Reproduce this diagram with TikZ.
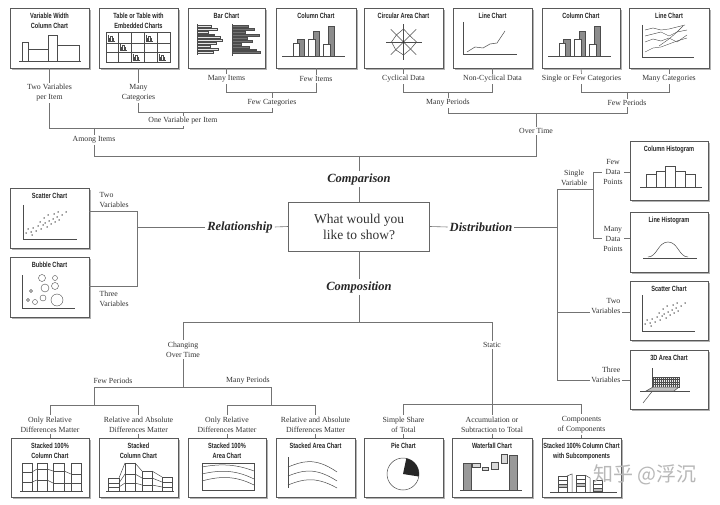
\documentclass[tikz,border=0pt]{standalone}
\usepackage{fontspec}
\setmainfont{Liberation Serif}
\newfontfamily\titlefont[FakeStretch=0.75]{Liberation Sans}
\newfontfamily\cjk{Noto Sans CJK SC}
\usetikzlibrary{shadows}
\newcommand{\chartbox}[6]{%
  \node[chartbox, minimum width={(#4)-(#2)}, minimum height={(#5)-(#3)}] (#1) at ({((#2)+(#4))/2},{((#3)+(#5))/2}) {};
  \node[ctitle] (#1t) at ({((#2)+(#4))/2},{(#3)+5}) {#6};
}
\newcommand{\tinych}[2]{%
  \draw[mini, line width=0.35pt] (#1,#2-6) -- (#1,#2) -- (#1+7,#2);
  \draw[mini, line width=0.35pt] (#1+1.2,#2) -- (#1+1.2,#2-3) -- (#1+2.6,#2-3) -- (#1+2.6,#2);
  \draw[mini, line width=0.35pt] (#1+2.6,#2) -- (#1+2.6,#2-5) -- (#1+4,#2-5) -- (#1+4,#2);
  \draw[mini, line width=0.35pt] (#1+4,#2-3.5) -- (#1+5.4,#2-3.5) -- (#1+5.4,#2);
}
\newcommand{\colch}{%
  \draw[mini] (6,48) -- (69,48);
  \draw[mini, fill=black!45] (21,31) rectangle (28,48);
  \draw[mini, fill=white] (17,35) rectangle (23,48);
  \draw[mini, fill=black!45] (37,23) rectangle (43,48);
  \draw[mini, fill=white] (32,31) rectangle (39,48);
  \draw[mini, fill=black!45] (52,18) rectangle (58,48);
  \draw[mini, fill=white] (47,36) rectangle (54,48);
}
\newcommand{\scatdots}{%
  \foreach \a/\b in {16/45,18/41,21/44,23/40,26/43,28/38,31/41,33/37,35/35,37/39,39/33,41/36,43/31,45/34,47/29,49/32,38/27,44/26,52/27,56/24,30/34,22/47,34/30,48/24}
    \fill[black!80] (\a,\b) circle (0.75);
}
\begin{document}
\begin{tikzpicture}[x=1pt,y=-1pt,
  chartbox/.style={draw=black!65, line width=0.9pt, fill=white, inner sep=0pt,
    drop shadow={shadow xshift=2pt, shadow yshift=-2pt, fill=black!30, opacity=1}},
  ctitle/.style={anchor=north, inner sep=0pt, align=center, text=black!85,
    font=\titlefont\bfseries\fontsize{7.5}{9.8}\selectfont},
  lbl/.style={inner sep=1.5pt, align=center, text=black!80, font=\fontsize{7.8}{10}\selectfont},
  cat/.style={inner sep=2pt, text=black!85, font=\bfseries\itshape\fontsize{12.5}{14}\selectfont},
  qbox/.style={draw=black!60, line width=0.7pt, minimum width=141pt, minimum height=49pt,
    align=center, inner sep=0pt, text=black!80, font=\fontsize{13.5}{16}\selectfont},
  conn/.style={draw=black!55, line width=0.6pt},
  mini/.style={draw=black!70, line width=0.5pt},
]
\fill[white] (0,0) rectangle (720,505);
\useasboundingbox (0,0) rectangle (720,505);

% ---------- chart boxes ----------
\chartbox{b1}{10}{8}{89}{68}{Variable Width\\Column Chart}
\chartbox{b2}{99}{8}{178}{68}{Table or Table with\\Embedded Charts}
\chartbox{b3}{188}{8}{265}{68}{Bar Chart}
\chartbox{b4}{276}{8}{356}{68}{Column Chart}
\chartbox{b5}{364}{8}{443}{68}{Circular Area Chart}
\chartbox{b6}{453}{8}{532}{68}{Line Chart}
\chartbox{b7}{542}{8}{620}{68}{Column Chart}
\chartbox{b8}{629}{8}{709}{68}{Line Chart}
\chartbox{bs1}{10}{188}{89}{248}{Scatter Chart}
\chartbox{bs2}{10}{257}{89}{317}{Bubble Chart}
\chartbox{r1}{630}{141}{708}{200}{Column Histogram}
\chartbox{r2}{630}{212}{708}{272}{Line Histogram}
\chartbox{r3}{630}{281}{708}{340}{Scatter Chart}
\chartbox{r4}{630}{350}{708}{409}{3D Area Chart}
\chartbox{c1}{11}{438}{89}{497}{Stacked 100\%\\Column Chart}
\chartbox{c2}{99}{438}{178}{497}{Stacked\\Column Chart}
\chartbox{c3}{188}{438}{266}{497}{Stacked 100\%\\Area Chart}
\chartbox{c4}{276}{438}{355}{497}{Stacked Area Chart}
\chartbox{c5}{364}{438}{443}{497}{Pie Chart}
\chartbox{c6}{452}{438}{532}{497}{Waterfall Chart}
\chartbox{c7}{542}{438}{621}{497}{Stacked 100\% Column Chart\\with Subcomponents}

% ---------- mini charts ----------
\begin{scope}[shift={(10,8)}]
  \draw[mini] (9,53) -- (71,53);
  \draw[mini] (12,53) -- (12,34) -- (18,34) -- (18,53);
  \draw[mini] (18,41) -- (38,41);
  \draw[mini] (38,53) -- (38,27) -- (47,27) -- (47,53);
  \draw[mini] (47,37) -- (69,37) -- (69,53);
\end{scope}
\begin{scope}[shift={(99,8)}]
  \draw[mini] (7,24) rectangle (71,54);
  \foreach \x in {19,32,45,58} \draw[mini] (\x,24) -- (\x,54);
  \foreach \y in {35,44} \draw[mini] (7,\y) -- (71,\y);
  \tinych{9}{33.5}\tinych{47}{33.5}\tinych{21}{42.5}\tinych{34}{52.5}\tinych{60}{52.5}
\end{scope}
\begin{scope}[shift={(188,8)}]
  \draw[mini] (9,16) -- (9,47);
  \foreach \i/\l in {0/14,1/20,2/11,3/17,4/23,5/25,6/19,7/13,8/21,9/16}
    \draw[mini, line width=0.35pt, fill=black!10] (9,17+\i*2.9) rectangle (9+\l,18.9+\i*2.9);
  \draw[mini] (44,16) -- (44,48);
  \foreach \i/\l in {0/16,1/22,2/13,3/27,4/15,5/20,6/9,7/17,8/24,9/28}
    \draw[mini, line width=0.35pt, fill=black!55] (44,17.5+\i*2.9) rectangle (44+\l,19.4+\i*2.9);
\end{scope}
\begin{scope}[shift={(276,8)}]\colch\end{scope}
\begin{scope}[shift={(542,8)}]\colch\end{scope}
\begin{scope}[shift={(403.5,42)}]
  \foreach \a in {0,45,90,135} \draw[mini, line width=0.4pt] (\a:18) -- (\a+180:18);
  \draw[mini] (0:13) -- (45:10) -- (90:13) -- (135:11) -- (180:12) -- (225:10) -- (270:13) -- (315:9) -- cycle;
  \fill[black!80] (0,0) circle (1.2);
\end{scope}
\begin{scope}[shift={(453,8)}]
  \draw[mini] (10,14) -- (10,46) -- (64,46);
  \draw[mini] (14,44) -- (22,39) -- (30,40) -- (37,36) -- (44,35) -- (52,23);
\end{scope}
\begin{scope}[shift={(629,8)}]
  \draw[mini] (13,17) -- (13,49) -- (65,49);
  \draw[mini, line width=0.4pt] (16,22) -- (24,20) -- (32,22) -- (40,21) -- (48,19) -- (56,17);
  \draw[mini, line width=0.4pt] (16,28) -- (24,26) -- (32,24) -- (40,28) -- (48,24) -- (58,22);
  \draw[mini, line width=0.4pt] (16,34) -- (24,31) -- (32,33) -- (40,30) -- (48,34) -- (58,27);
  \draw[mini, line width=0.4pt] (16,44) -- (24,40) -- (32,39) -- (40,36) -- (48,33) -- (58,30);
  \draw[mini, line width=0.4pt] (30,38) -- (40,31) -- (48,24) -- (54,18);
\end{scope}
\begin{scope}[shift={(10,188)}]
  \draw[mini] (13,17) -- (13,51) -- (67,51);
  \scatdots
\end{scope}
\begin{scope}[shift={(630,281)}]
  \draw[mini] (12,14) -- (12,50) -- (65,50);
  \begin{scope}[shift={(-1,-2)}]\scatdots\end{scope}
\end{scope}
\begin{scope}[shift={(10,257)}]
  \draw[mini] (12,18) -- (12,51) -- (65,51);
  \foreach \a/\b/\r in {32/21/3.5,45/21/2.5,35/31/4,45/29/3.5,21/34/1.5,33/41/3,25/45/2.5,18/43/1.5,47/43/6}
    \draw[mini, line width=0.4pt] (\a,\b) circle (\r);
\end{scope}
\begin{scope}[shift={(630,141)}]
  \draw[mini] (10,46) -- (72,46);
  \draw[mini] (16,33) rectangle (26,46);
  \draw[mini] (26,30) rectangle (35,46);
  \draw[mini] (35,25) rectangle (45,46);
  \draw[mini] (45,30) rectangle (55,46);
  \draw[mini] (55,33) rectangle (65,46);
\end{scope}
\begin{scope}[shift={(630,212)}]
  \draw[mini] (13,46) -- (67,46);
  \draw[mini] (18,45) .. controls (27,45) and (28,30) .. (38,30) .. controls (48,30) and (49,45) .. (58,45);
\end{scope}
\begin{scope}[shift={(630,350)}]
  \draw[mini] (22,18) -- (22,42);
  \draw[mini] (10,41) -- (60,41);
  \draw[mini] (13,53) -- (28,34);
  \draw[mini, fill=black!8] (23,27) rectangle (49,37);
  \foreach \x in {25,27,...,47} \draw[mini, line width=0.25pt] (\x,27) -- (\x,37);
  \foreach \y in {29.5,32,34.5} \draw[mini, line width=0.25pt] (23,\y) -- (49,\y);
  \draw[mini, fill=black!25] (16,41) -- (23,37) -- (49,37) -- (44,41) -- cycle;
\end{scope}
\begin{scope}[shift={(11,438)}]
  \draw[mini] (9,53) -- (72,53);
  \foreach \a/\b/\p/\q in {11/21/34/44,26/36/31/42,42/53/33/45,60/70/36/45}{
    \draw[mini] (\a,25) rectangle (\b,53);
    \draw[mini] (\a,\p) -- (\b,\p);
    \draw[mini] (\a,\q) -- (\b,\q);}
  \draw[mini] (21,34) -- (26,31); \draw[mini] (36,31) -- (42,33); \draw[mini] (53,33) -- (60,36);
  \draw[mini] (21,44) -- (26,42); \draw[mini] (36,42) -- (42,45); \draw[mini] (53,45) -- (60,45);
\end{scope}
\begin{scope}[shift={(99,438)}]
  \draw[mini] (7,53) -- (75,53);
  \foreach \a/\b/\t/\p/\q in {9/20/40/45/49,26/36/25/36/45,43/53/33/40/47,63/73/39/44/49}{
    \draw[mini] (\a,\t) rectangle (\b,53);
    \draw[mini] (\a,\p) -- (\b,\p);
    \draw[mini] (\a,\q) -- (\b,\q);}
  \draw[mini] (20,40) -- (26,25); \draw[mini] (20,45) -- (26,36); \draw[mini] (20,49) -- (26,45);
  \draw[mini] (36,25) -- (43,33); \draw[mini] (36,36) -- (43,40); \draw[mini] (36,45) -- (43,47);
  \draw[mini] (53,33) -- (63,39); \draw[mini] (53,40) -- (63,44); \draw[mini] (53,47) -- (63,49);
\end{scope}
\begin{scope}[shift={(188,438)}]
  \draw[mini] (14,25) rectangle (66,52);
  \draw[mini] (14,29) .. controls (35,25) and (50,27) .. (66,33);
  \draw[mini] (14,36) .. controls (35,31) and (50,33) .. (66,41);
  \draw[mini] (14,43) .. controls (35,37) and (50,39) .. (66,47);
\end{scope}
\begin{scope}[shift={(276,438)}]
  \draw[mini] (12,19) -- (12,50);
  \draw[mini] (12,29) .. controls (25,24) and (38,18) .. (61,34);
  \draw[mini] (12,38) .. controls (25,33) and (38,28) .. (61,43);
  \draw[mini] (12,47) .. controls (25,42) and (38,37) .. (61,50);
\end{scope}
\begin{scope}[shift={(403,474)}]
  \draw[mini] (0,0) circle (16);
  \fill[black!85] (0,0) -- (-78:16) arc[start angle=-78, end angle=9, radius=16] -- cycle;
\end{scope}
\begin{scope}[shift={(452,438)}]
  \draw[mini] (8,52) -- (70,52);
  \draw[mini, fill=black!40] (11,25) rectangle (19,52);
  \draw[mini, fill=black!15] (20,25) rectangle (28,29);
  \draw[mini, fill=black!15] (30,29) rectangle (36,32);
  \draw[mini, fill=black!15] (39,24) rectangle (46,31);
  \draw[mini, fill=black!15] (49,16) rectangle (55,25);
  \draw[mini, fill=black!40] (57,17) rectangle (65,52);
\end{scope}
\begin{scope}[shift={(542,438)}]
  \draw[mini] (8,54) -- (75,54);
  \foreach \a/\b/\t in {16/25/38,34/43/37,51/60/42}{
    \draw[mini] (\a,\t) rectangle (\b,54);
    \draw[mini, fill=black!25] (\a,{\t+8}) rectangle (\b,{\t+11});
    \draw[mini] (\a,{\t+4}) -- (\b,{\t+4});}
  \draw[mini] (25,38) -- (30,36) -- (30,54);
  \draw[mini] (43,37) -- (48,40) -- (48,54);
\end{scope}

% ---------- centre ----------
\node[qbox] (q) at (359,226.5) {What would you\\like to show?};
\node[cat] (lcomp) at (359,179) {Comparison};
\node[cat] (lrel) at (240,227) {Relationship};
\node[cat] (ldist) at (481,227) {Distribution};
\node[cat] (lcmp) at (359,287) {Composition};

% ---------- comparison tree ----------
\node[lbl] (ltv) at (49.5,93) {Two Variables\\per Item};
\node[lbl] (lmcat) at (138.5,93) {Many\\Categories};
\node[lbl] (lmi) at (226.5,79) {Many Items};
\node[lbl] (lfi) at (316,79) {Few Items};
\node[lbl] (lfc) at (272,103) {Few Categories};
\node[lbl] (lone) at (183,121) {One Variable per Item};
\node[lbl] (lamong) at (94,140) {Among Items};
\node[lbl] (lcyc) at (403.5,79) {Cyclical Data};
\node[lbl] (lncy) at (492.5,79) {Non-Cyclical Data};
\node[lbl] (lsfc) at (581.5,79) {Single or Few Categories};
\node[lbl] (lmc2) at (669,79) {Many Categories};
\node[lbl] (lmp) at (448,103) {Many Periods};
\node[lbl] (lfp) at (627,103) {Few Periods};
\node[lbl] (lot) at (536,131) {Over Time};

\coordinate (j1) at (183,128);
\coordinate (j2) at (183,112);
\coordinate (j3) at (272,112);
\coordinate (j4) at (316,92);
\coordinate (j5) at (272,92);
\coordinate (j6) at (94,128);
\coordinate (j7) at (536,156);
\coordinate (j8) at (492.5,92);
\coordinate (j9) at (448,92);
\coordinate (j10) at (627,113);
\coordinate (j11) at (669,92);
\coordinate (j12) at (627,92);
\coordinate (j13) at (536,113);
\coordinate (j14) at (359,156);

\draw[conn] (b1.south) -- (ltv.north);
\draw[conn] (ltv.south) |- (j1) -- (lone.south);
\draw[conn] (b2.south) -- (lmcat.north);
\draw[conn] (lmcat.south) |- (j3) -- (lfc.south);
\draw[conn] (j2) -- (lone.north);
\draw[conn] (b3.south) -- (lmi.north);
\draw[conn] (b4.south) -- (lfi.north);
\draw[conn] (lmi.south) |- (j4) -- (lfi.south);
\draw[conn] (j5) -- (lfc.north);
\draw[conn] (j6) -- (lamong.north);
\draw[conn] (lamong.south) |- (j7) -- (lot.south);
\draw[conn] (b5.south) -- (lcyc.north);
\draw[conn] (b6.south) -- (lncy.north);
\draw[conn] (lcyc.south) |- (j8) -- (lncy.south);
\draw[conn] (j9) -- (lmp.north);
\draw[conn] (lmp.south) |- (j10) -- (lfp.south);
\draw[conn] (b7.south) -- (lsfc.north);
\draw[conn] (b8.south) -- (lmc2.north);
\draw[conn] (lsfc.south) |- (j11) -- (lmc2.south);
\draw[conn] (j12) -- (lfp.north);
\draw[conn] (j13) -- (lot.north);
\draw[conn] (j14) -- (lcomp.north);
\draw[conn] (lcomp.south) -- (q.north);

% ---------- relationship ----------
\node[lbl, align=left, anchor=west] (ltwo) at (98,200.5) {Two\\Variables};
\node[lbl, align=left, anchor=west] (lthree) at (98,299) {Three\\Variables};
\coordinate (j15) at (137,227);
\coordinate (j16) at (137,211);
\coordinate (j17) at (137,286);
\draw[conn] (q.west) -- (lrel.east);
\draw[conn] (lrel.west) -- (j15);
\draw[conn] (j16 -| bs1.east) -- (j16) -- (j17) -- (j17 -| bs2.east);

% ---------- distribution ----------
\node[lbl] (lsv) at (574,178) {Single\\Variable};
\node[lbl] (lfdp) at (613,172) {Few\\Data\\Points};
\node[lbl] (lmdp) at (613,238.5) {Many\\Data\\Points};
\node[lbl, align=right, anchor=east] (ltv3) at (622,306.5) {Two\\Variables};
\node[lbl, align=right, anchor=east] (lthv) at (622,374.5) {Three\\Variables};
\coordinate (j18) at (557,227);
\coordinate (j19) at (557,189);
\coordinate (j20) at (557,380);
\coordinate (j21) at (593,189);
\coordinate (j22) at (593,172);
\coordinate (j23) at (593,238);
\coordinate (j24) at (557,312);
\draw[conn] (q.east) -- (ldist.west);
\draw[conn] (ldist.east) -- (j18);
\draw[conn] (j19) -- (j20);
\draw[conn] (j19) -- (j21);
\draw[conn] (j22) -- (j23);
\draw[conn] (j22) -- (j22 -| lfdp.west);
\draw[conn] (j22 -| lfdp.east) -- (j22 -| r1.west);
\draw[conn] (j23) -- (j23 -| lmdp.west);
\draw[conn] (j23 -| lmdp.east) -- (j23 -| r2.west);
\draw[conn] (j24) -- (j24 -| ltv3.west);
\draw[conn] (j24 -| ltv3.east) -- (j24 -| r3.west);
\draw[conn] (j20) -- (j20 -| lthv.west);
\draw[conn] (j20 -| lthv.east) -- (j20 -| r4.west);

% ---------- composition ----------
\node[lbl] (lchg) at (183,349.5) {Changing\\Over Time};
\node[lbl] (lst) at (492,345) {Static};
\node[lbl] (lfp2) at (113,380.5) {Few Periods};
\node[lbl] (lmp2) at (248,380.5) {Many Periods};
\node[lbl] (lo1) at (50,424.5) {Only Relative\\Differences Matter};
\node[lbl] (lo2) at (138.5,424.5) {Relative and Absolute\\Differences Matter};
\node[lbl] (lo3) at (227,424.5) {Only Relative\\Differences Matter};
\node[lbl] (lo4) at (315.5,424.5) {Relative and Absolute\\Differences Matter};
\node[lbl] (lss) at (403.5,424.5) {Simple Share\\of Total};
\node[lbl] (lacc) at (492,424.5) {Accumulation or\\Subtraction to Total};
\node[lbl] (lcoc) at (581.5,424.5) {Components\\of Components};

\coordinate (j25) at (359,322);
\coordinate (j26) at (183,322);
\coordinate (j27) at (492,322);
\coordinate (j28) at (183,387);
\coordinate (j29) at (94,387);
\coordinate (j30) at (271,387);
\coordinate (j31) at (94,405);
\coordinate (j32) at (271,405);
\coordinate (k1) at (50,405);
\coordinate (k2) at (138.5,405);
\coordinate (k3) at (227,405);
\coordinate (k4) at (315.5,405);
\coordinate (j33) at (492,404);
\coordinate (k5) at (403.5,404);
\coordinate (k6) at (581.5,404);

\draw[conn] (q.south) -- (lcmp.north);
\draw[conn] (lcmp.south) -- (j25);
\draw[conn] (j26) -- (j27);
\draw[conn] (j26) -- (lchg.north);
\draw[conn] (j27) -- (lst.north);
\draw[conn] (lchg.south) -- (j28);
\draw[conn] (j29) -- (j30);
\draw[conn] (j29) -- (j31);
\draw[conn] (j30) -- (j32);
\draw[conn] (k1) -- (k2);
\draw[conn] (k3) -- (k4);
\draw[conn] (k1) -- (lo1.north);
\draw[conn] (k2) -- (lo2.north);
\draw[conn] (k3) -- (lo3.north);
\draw[conn] (k4) -- (lo4.north);
\draw[conn] (lo1.south) -- (c1.north);
\draw[conn] (lo2.south) -- (c2.north);
\draw[conn] (lo3.south) -- (c3.north);
\draw[conn] (lo4.south) -- (c4.north);
\draw[conn] (lst.south) -- (j33);
\draw[conn] (k5) -- (k6);
\draw[conn] (k5) -- (lss.north);
\draw[conn] (j33) -- (lacc.north);
\draw[conn] (k6) -- (lcoc.north);
\draw[conn] (lss.south) -- (c5.north);
\draw[conn] (lacc.south) -- (c6.north);
\draw[conn] (lcoc.south) -- (c7.north);

% ---------- watermark ----------
\node[text=black!28, font=\cjk\fontsize{20}{20}\selectfont, inner sep=0pt] (wm) at (645,475) {知乎 @浮沉};
\end{tikzpicture}
\end{document}
